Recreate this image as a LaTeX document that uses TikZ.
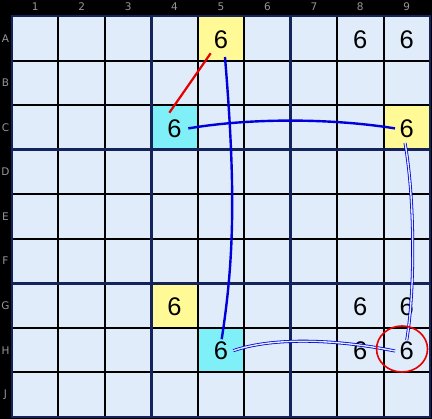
\documentclass[tikz,border=0pt]{standalone}
\usepackage{fontspec}
\setmainfont{Liberation Sans}
\newfontfamily\labfont{DejaVu Sans}
\definecolor{cellbg}{RGB}{224,236,250}
\definecolor{hlyellow}{RGB}{255,250,150}
\definecolor{hlcyan}{RGB}{128,240,248}
\definecolor{boxnavy}{RGB}{20,36,90}
\definecolor{labgray}{RGB}{150,150,150}
\definecolor{chainblue}{RGB}{0,0,220}
\definecolor{linkred}{RGB}{230,0,0}
\begin{document}
\begin{tikzpicture}[x=1pt,y=-1pt,
  dig/.style={font=\fontsize{25.5}{25.5}\selectfont, inner sep=0pt, text=black},
  lab/.style={font=\labfont\fontsize{10.5}{10.5}\selectfont, text=labgray, inner sep=0pt},
  thinline/.style={black, line width=2pt},
  boxline/.style={boxnavy, line width=3.5pt},
  strong/.style={chainblue, line width=2.4pt},
  weak/.style={draw=chainblue, double=cellbg, line width=0.8pt, double distance=1.4pt},
  redlink/.style={linkred, line width=2.2pt},
  ring/.style={linkred, line width=1.6pt}]
\useasboundingbox (0,0) rectangle (432,419);
\fill[black] (0,0) rectangle (432,419);
\fill[cellbg] (12,16) rectangle (430,417);
% highlighted cells
\foreach \c/\r in {5/1,9/3,4/7}
  \fill[hlyellow] ({12+46.44*(\c-1)},{16+44.56*(\r-1)}) rectangle ++(46.44,44.56);
\foreach \c/\r in {4/3,5/8}
  \fill[hlcyan] ({12+46.44*(\c-1)},{16+44.56*(\r-1)}) rectangle ++(46.44,44.56);
% grid lines
\foreach \i in {1,2,4,5,7,8} {
  \draw[thinline] ({12+46.44*\i},16) -- ({12+46.44*\i},417);
  \draw[thinline] (12,{16+44.56*\i}) -- (430,{16+44.56*\i});
}
\foreach \i in {3,6} {
  \draw[boxline] ({12+46.44*\i},16) -- ({12+46.44*\i},417);
  \draw[boxline] (12,{16+44.56*\i}) -- (430,{16+44.56*\i});
}
\draw[boxnavy, line width=2pt] (12,16) rectangle (430,417);
% labels
\foreach \c in {1,...,9}
  \node[lab] (col\c) at ({12+46.44*(\c-0.5)},7) {\c};
\foreach \l [count=\r] in {A,B,C,D,E,F,G,H,J}
  \node[lab] (row\l) at (5.5,{16+44.56*(\r-0.5)}) {\l};
% digits
\foreach \l/\c/\r in {A5/5/1,A8/8/1,A9/9/1,C4/4/3,C9/9/3,G4/4/7,G8/8/7,G9/9/7,H5/5/8,H8/8/8,H9/9/8}
  \node[dig] (\l) at ({12+46.44*(\c-0.5)},{16+44.56*(\r-0.5)+1}) {6};
% connector endpoints
\coordinate (rA) at ([shift={(-10.3,14)}]A5.center);
\coordinate (rC) at ([shift={(-5.2,-15.7)}]C4.center);
\coordinate (sA) at ([shift={(4,17.7)}]A5.center);
\coordinate (sH) at ([shift={(0.7,-12)}]H5.center);
\coordinate (tC4) at ([shift={(13.8,0)}]C4.center);
\coordinate (tC9) at ([shift={(-11.7,0)}]C9.center);
\coordinate (uC) at ([shift={(-1.7,14.6)}]C9.center);
\coordinate (uH) at ([shift={(0,-11)}]H9.center);
\coordinate (vH5) at ([shift={(12.3,-0.5)}]H5.center);
\coordinate (vH9) at ([shift={(-11.7,-0.2)}]H9.center);
% connectors
\draw[redlink] (rA) -- (rC);
\draw[strong] (sA) .. controls (236,190) and (234,260) .. (sH);
\draw[strong] (tC4) .. controls (250,118) and (330,118) .. (tC9);
\draw[weak] (uC) .. controls (415,200) and (415,290) .. (uH);
\draw[weak] (vH5) .. controls (270,338) and (330,338) .. (vH9);
\draw[ring] ([shift={(-4.7,-2.2)}]H9.center) ellipse [x radius=25.5, y radius=23];
\end{tikzpicture}
\end{document}
